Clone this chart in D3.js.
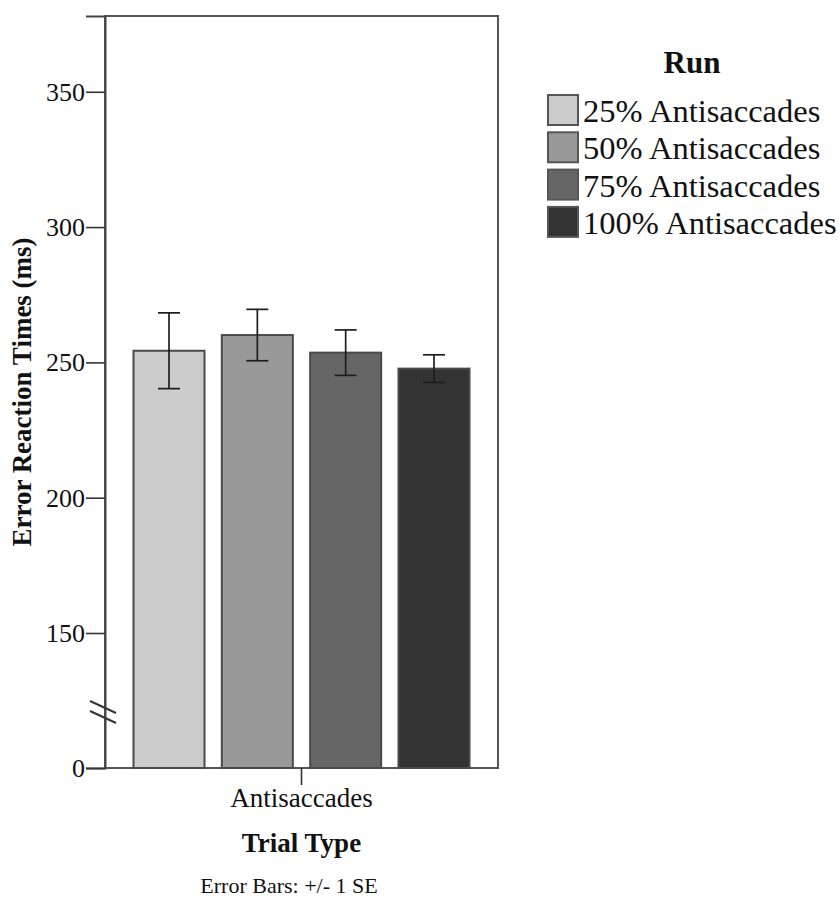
<!DOCTYPE html>
<html>
<head>
<meta charset="utf-8">
<script src="https://cdn.jsdelivr.net/npm/d3@7"></script>
<style>
  html, body { margin: 0; padding: 0; background: #fff; }
  svg { display: block; }
  svg text { font-family: "Liberation Serif", "Tinos", "Times New Roman", "Nimbus Roman", "DejaVu Serif", serif; }
</style>
</head>
<body>
<svg id="chart" width="839" height="900"></svg>
<script>
// ---- data ----
const categories = ["Antisaccades"];
const seriesNames = ["25% Antisaccades", "50% Antisaccades", "75% Antisaccades", "100% Antisaccades"];
const meanValues = [254.3, 260.1, 253.6, 247.7];
const seErrors = [14.0, 9.5, 8.4, 5.1];
const yTickValues = [0, 150, 200, 250, 300, 350];
const seriesColors = ["#cccccc", "#999999", "#666666", "#333333"];

// ---- layout ----
const svg = d3.select("#chart");
const plot = { left: 105, right: 498, top: 16, bottom: 768 };

// broken y axis: 0 sits at the bottom, 150..max linear
const y = d3.scaleLinear()
  .domain([0, 150, 378])
  .range([plot.bottom, 633, plot.top]);

const x0 = d3.scaleBand()
  .domain(categories)
  .range([plot.left, plot.right])
  .paddingInner(0)
  .paddingOuter(0.0848);

const x1 = d3.scaleBand()
  .domain(seriesNames)
  .range([0, x0.bandwidth()])
  .paddingInner(0.196)
  .paddingOuter(0);

const color = d3.scaleOrdinal().domain(seriesNames).range(seriesColors);

// frame
svg.append("rect")
  .attr("x", plot.left).attr("y", plot.top)
  .attr("width", plot.right - plot.left).attr("height", plot.bottom - plot.top)
  .attr("fill", "none").attr("stroke", "#555").attr("stroke-width", 2);

// bars
const rows = [];
categories.forEach(c => seriesNames.forEach((s, i) => rows.push({ cat: c, name: s, v: meanValues[i], se: seErrors[i] })));

const g = svg.append("g");
g.selectAll("rect.bar").data(rows).join("rect")
  .attr("class", "bar")
  .attr("x", d => x0(d.cat) + x1(d.name))
  .attr("y", d => y(d.v))
  .attr("width", x1.bandwidth())
  .attr("height", d => y(0) - y(d.v))
  .attr("fill", d => color(d.name))
  .attr("stroke", "#4a4a4a")
  .attr("stroke-width", 2);

// error bars
const capW = 22;
const cx = d => x0(d.cat) + x1(d.name) + x1.bandwidth() / 2;
const eb = g.selectAll("g.err").data(rows).join("g").attr("class", "err")
  .attr("stroke", "#1e1e1e").attr("stroke-width", 1.7);
eb.append("line")
  .attr("x1", cx).attr("x2", cx)
  .attr("y1", d => y(d.v + d.se)).attr("y2", d => y(d.v - d.se));
eb.append("line")
  .attr("x1", d => cx(d) - capW / 2).attr("x2", d => cx(d) + capW / 2)
  .attr("y1", d => y(d.v + d.se)).attr("y2", d => y(d.v + d.se));
eb.append("line")
  .attr("x1", d => cx(d) - capW / 2).attr("x2", d => cx(d) + capW / 2)
  .attr("y1", d => y(d.v - d.se)).attr("y2", d => y(d.v - d.se));

// y axis
const yAxis = svg.append("g")
  .attr("transform", `translate(${plot.left},0)`)
  .call(d3.axisLeft(y).tickValues(yTickValues).tickSize(19).tickPadding(1).tickFormat(d3.format("d")));
yAxis.attr("font-family", null);
yAxis.select(".domain").attr("stroke", "#444").attr("stroke-width", 2);
yAxis.selectAll(".tick line").attr("stroke", "#333").attr("stroke-width", 1.6);
yAxis.selectAll(".tick text")
  .attr("font-size", 26).attr("fill", "#111");

// axis break marks
const breakY = 712;
[-5, 5].forEach(off => {
  svg.append("line")
    .attr("x1", plot.left - 15).attr("y1", breakY + off - 6)
    .attr("x2", plot.left + 11).attr("y2", breakY + off + 6)
    .attr("stroke", "#333").attr("stroke-width", 2);
});

// x axis
const xAxis = svg.append("g")
  .attr("transform", `translate(0,${plot.bottom})`)
  .call(d3.axisBottom(x0).tickSize(17).tickPadding(3));
xAxis.attr("font-family", null);
xAxis.select(".domain").remove();
xAxis.selectAll(".tick line").attr("stroke", "#333").attr("stroke-width", 1.6);
xAxis.selectAll(".tick text")
  .attr("font-size", 27).attr("fill", "#111");

// axis titles
svg.append("text")
  .attr("transform", `translate(31,${(plot.top + plot.bottom) / 2}) rotate(-90)`)
  .attr("text-anchor", "middle")
  .attr("font-size", 27).attr("font-weight", "bold").attr("fill", "#111")
  .text("Error Reaction Times (ms)");

svg.append("text")
  .attr("x", (plot.left + plot.right) / 2).attr("y", 852)
  .attr("text-anchor", "middle")
  .attr("font-size", 27).attr("font-weight", "bold").attr("fill", "#111")
  .text("Trial Type");

svg.append("text")
  .attr("x", 289).attr("y", 893)
  .attr("text-anchor", "middle")
  .attr("font-size", 22).attr("fill", "#111")
  .text("Error Bars: +/- 1 SE");

// legend
const lg = svg.append("g");
lg.append("text")
  .attr("x", 692).attr("y", 73)
  .attr("text-anchor", "middle")
  .attr("font-size", 31).attr("font-weight", "bold").attr("fill", "#111")
  .text("Run");
const items = lg.selectAll("g.item").data(seriesNames).join("g")
  .attr("class", "item")
  .attr("transform", (d, i) => `translate(548,${95 + i * 37.3})`);
items.append("rect")
  .attr("width", 30).attr("height", 30)
  .attr("fill", d => color(d))
  .attr("stroke", "#555").attr("stroke-width", 2);
items.append("text")
  .attr("x", 35).attr("y", 27)
  .attr("font-size", 32.5).attr("fill", "#111")
  .text(d => d);
</script>
</body>
</html>
